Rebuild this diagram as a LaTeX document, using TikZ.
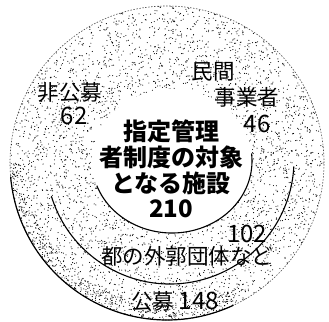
\documentclass[tikz,border=0pt]{standalone}
\usepackage{fontspec}
\setmainfont{Noto Sans CJK JP}
\usetikzlibrary{calc}
\begin{document}
\begin{tikzpicture}[x=1pt,y=1pt,
  lbl/.style={inner sep=0pt,font=\fontsize{21.5}{23}\selectfont},
  num/.style={inner sep=0pt,font=\fontsize{24}{26}\selectfont},
  ctr/.style={inner sep=0pt,align=center,font=\fontsize{24}{25.8}\selectfont\bfseries},
  bound/.style={line width=1.1pt,black},
  dot/.style={black}]
\useasboundingbox (0,0) rectangle (329,321);
\coordinate (O) at (167,158);
\coordinate (M) at (170,161);
\coordinate (I) at (172,160);
% stipple
\pgfmathsetseed{7}
\begin{scope}
\clip (O) circle (157);
\foreach \i in {1,...,4400}{
  \pgfmathsetmacro{\rr}{157*sqrt(rnd)}
  \pgfmathsetmacro{\aa}{360*rnd}
  \fill[dot] ($(O)+(\aa:\rr)$) circle (0.55);
}
\foreach \i in {1,...,450}{
  \pgfmathsetmacro{\rr}{142+15*rnd}
  \pgfmathsetmacro{\aa}{180+120*rnd}
  \fill[dot] ($(O)+(\aa:\rr)$) circle (0.55);
}
\end{scope}
\fill[white] (I) ellipse [x radius=80, y radius=72];
% outlines
\draw[black!70,line width=0.6pt,dash pattern=on 1.5pt off 1.5pt] (O) circle (157);
\draw[black,line width=1.2pt] ($(O)+(185:157)$) arc (185:295:157);
\draw[bound] ($(M)+(197:124)$) arc (197:357:124);
\draw[bound] ($(I)+(200:80 and 72)$) arc [start angle=200,end angle=366,x radius=80,y radius=72];
% labels
\node[lbl] (hikobo) at (70,229) {非公募};
\node[num] (n62) at (74,205) {62};
\node[lbl] (minkan) at (213,249) {民間};
\node[lbl] (jigyo) at (247,224) {事業者};
\node[num] (n46) at (257,197) {46};
\node[ctr] (center) at (171,152) {指定管理\\者制度の対象\\となる施設\\210};
\node[num] (n102) at (247,87) {102};
\node[lbl] (gaikaku) at (187,65) {都の外郭団体など};
\node[lbl] (kobo) at (175,20) {公募 {\fontsize{24}{26}\selectfont 148}};
\end{tikzpicture}
\end{document}
